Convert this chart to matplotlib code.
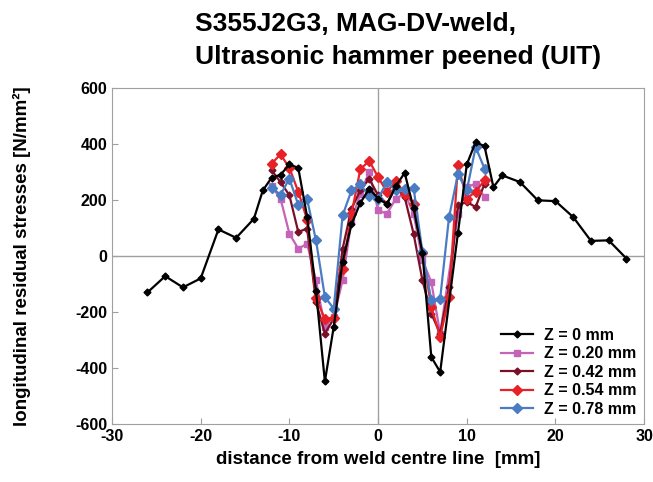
import matplotlib
matplotlib.use('Agg')
import matplotlib.pyplot as plt

plt.rcParams['font.family'] = ['Liberation Sans', 'DejaVu Sans']
plt.rcParams['font.weight'] = 'bold'
plt.rcParams['axes.unicode_minus'] = False

# distance from weld centre line [mm] / longitudinal residual stress [N/mm2]
x_z0 = [-26, -24, -22, -20, -18, -16, -14, -13, -12, -11, -10, -9, -8, -7, -6, -5,
        -4, -3, -2, -1, 0, 1, 2, 3, 4, 5, 6, 7, 9, 10, 11, 12, 13, 14, 16, 18,
        20, 22, 24, 26, 28]
s_z0 = [-130, -72, -112, -80, 95, 65, 133, 234, 280, 290, 327, 315, 140, -125, -448, -253,
        -20, 113, 190, 240, 205, 185, 250, 297, 170, 10, -361, -414, 82, 327, 407, 392, 246, 288, 264, 199,
        196, 139, 54, 56, -9]

x_z020 = [-12, -11, -10, -9, -8, -7, -6, -5, -4, -3, -2, -1, 0, 1, 2, 3, 4, 5, 6, 7, 9, 10, 11, 12]
s_z020 = [249, 205, 80, 26, 44, -87, -253, -218, -87, 127, 223, 300, 163, 151, 205, 223, 151, -15, -93, -277,
          151, 246, 258, 210]

x_z042 = [-12, -11, -10, -9, -8, -7, -6, -5, -4, -3, -2, -1, 0, 1, 2, 3, 4, 5, 6, 7, 8, 9, 10, 11, 12]
s_z042 = [306, 264, 217, 86, 98, -164, -277, -224, 26, 169, 234, 276, 217, 187, 246, 210, 80, -87, -206, -277,
          -111, 181, 193, 175, 258]

x_z054 = [-12, -11, -10, -9, -8, -7, -6, -5, -4, -3, -2, -1, 0, 1, 2, 3, 4, 5, 6, 7, 8, 9, 10, 11, 12]
s_z054 = [330, 363, 315, 230, 130, -150, -225, -220, -45, 150, 310, 340, 282, 229, 268, 223, 187, 10, -182, -289,
          -146, 324, 205, 230, 270]

x_z078 = [-12, -11, -10, -9, -8, -7, -6, -5, -4, -3, -2, -1, 0, 1, 2, 3, 4, 5, 6, 7, 8, 9, 10, 11, 12]
s_z078 = [244, 219, 276, 183, 202, 56, -146, -188, 145, 234, 256, 213, 205, 264, 234, 240, 244, 14, -158, -152,
          139, 292, 234, 389, 312]

labels = ['Z = 0 mm', 'Z = 0.20 mm', 'Z = 0.42 mm', 'Z = 0.54 mm', 'Z = 0.78 mm']

fig = plt.figure(figsize=(6.53, 4.82), dpi=100)
ax = fig.add_axes([0.1715, 0.1203, 0.815, 0.6971])

ax.axhline(0, color='#a0a0a0', lw=1, zorder=1)
ax.axvline(0, color='#a0a0a0', lw=1, zorder=1)

ax.plot(x_z0, s_z0, color='black', lw=1.6, marker='D', ms=3.5, label=labels[0], zorder=3)
ax.plot(x_z020, s_z020, color='#c463b8', lw=1.6, marker='s', ms=5, label=labels[1], zorder=2)
ax.plot(x_z042, s_z042, color='#7a1028', lw=1.6, marker='D', ms=3.5, label=labels[2], zorder=2)
ax.plot(x_z054, s_z054, color='#e62228', lw=1.6, marker='D', ms=5, label=labels[3], zorder=2)
ax.plot(x_z078, s_z078, color='#4a7cc4', lw=1.6, marker='D', ms=5, label=labels[4], zorder=2)

ax.set_xlim(-30, 30)
ax.set_ylim(-600, 600)
ax.set_xticks(range(-30, 31, 10))
ax.set_yticks(range(-600, 601, 200))
for sp in ax.spines.values():
    sp.set_color('#a0a0a0')
ax.tick_params(axis='both', direction='in', length=4, color='#a0a0a0', labelsize=11.5)
for t in ax.get_xticklabels() + ax.get_yticklabels():
    t.set_fontweight('bold')

ax.set_xlabel('distance from weld centre line  [mm]', fontsize=13.5, fontweight='bold', labelpad=5)
ax.set_ylabel('longitudinal residual stresses [N/mm\u00b2]', fontsize=13.5, fontweight='bold', labelpad=32)

# two-line title, left aligned
fig.text(0.299, 0.976, 'S355J2G3, MAG-DV-weld,\nUltrasonic hammer peened (UIT)',
         ha='left', va='top', fontsize=19, fontweight='bold', linespacing=1.5)

ax.legend(loc='lower right', frameon=False, fontsize=11.5, handlelength=2.0,
          labelspacing=0.22, borderaxespad=0.05, handletextpad=0.7)

fig.savefig('out.png', dpi=100)
